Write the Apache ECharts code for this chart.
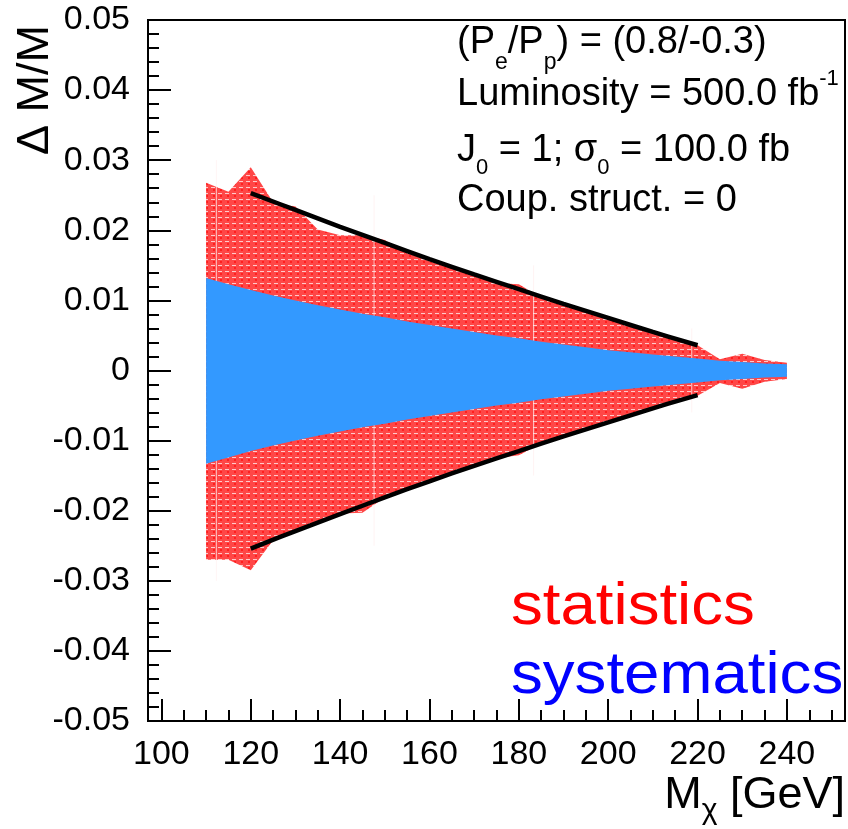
<!DOCTYPE html>
<html>
<head>
<meta charset="utf-8">
<script src="https://cdn.jsdelivr.net/npm/echarts@6/dist/echarts.min.js"></script>
<style>
  html, body { margin: 0; padding: 0; background: #fff; }
  #chart { width: 848px; height: 829px; }
</style>
</head>
<body>
<div id="chart"></div>
<script>
// Statistical uncertainty band (5 GeV steps)
const massGrid = [110, 115, 120, 125, 130, 135, 140, 145, 150, 155, 160, 165, 170, 175,
                  180, 185, 190, 195, 200, 205, 210, 215, 220, 225, 230, 235, 240];
const statUpper = [0.0268, 0.0255, 0.0290, 0.0240, 0.0234, 0.0201, 0.0193, 0.0193, 0.0186, 0.0168,
                   0.0156, 0.0146, 0.0135, 0.0125, 0.0123, 0.0104, 0.0094, 0.0084, 0.0074, 0.0064,
                   0.0054, 0.0045, 0.0036, 0.0016, 0.0024, 0.0015, 0.0011];
const statLower = [-0.0270, -0.0270, -0.0285, -0.0242, -0.0229, -0.0216, -0.0204, -0.0203, -0.0181, -0.0169,
                   -0.0156, -0.0146, -0.0135, -0.0125, -0.0121, -0.0104, -0.0094, -0.0084, -0.0074, -0.0064,
                   -0.0054, -0.0045, -0.0036, -0.0018, -0.0026, -0.0016, -0.0012];

// Systematic uncertainty band (5 GeV steps)
const sysMass = [110, 115, 120, 125, 130, 135, 140, 145, 150, 155, 160, 165, 170, 175,
                 180, 185, 190, 195, 200, 205, 210, 215, 220, 225, 230, 235, 240];
const sysUpper = [0.0132, 0.0123, 0.0115, 0.0107, 0.0100, 0.0093, 0.0087, 0.0081, 0.0076, 0.0070,
                  0.0065, 0.0060, 0.0055, 0.0050, 0.0046, 0.0041, 0.0037, 0.0033, 0.0029, 0.0026,
                  0.0023, 0.0020, 0.0017, 0.0014, 0.0012, 0.0010, 0.0009];
const sysLower = [-0.0133, -0.0124, -0.0115, -0.0107, -0.0100, -0.0093, -0.0087, -0.0081, -0.0076, -0.0070,
                  -0.0065, -0.0060, -0.0055, -0.0050, -0.0046, -0.0041, -0.0037, -0.0033, -0.0029, -0.0026,
                  -0.0023, -0.0020, -0.0017, -0.0014, -0.0012, -0.0010, -0.0009];

// Fitted envelope of the statistical band
const fitMass = [120, 130, 140, 150, 160, 170, 180, 190, 200, 210, 220];
const fitUpper = [0.0253, 0.0229, 0.0205, 0.0182, 0.0159, 0.0137, 0.0116, 0.0095, 0.0075, 0.0055, 0.0036];
const fitLower = [-0.0254, -0.0229, -0.0205, -0.0181, -0.0158, -0.0136, -0.0115, -0.0094, -0.0074, -0.0054, -0.0035];

// Axis ticks
const xMajorTicks = [100, 120, 140, 160, 180, 200, 220, 240];
const xMinorTicks = [105, 110, 115, 125, 130, 135, 145, 150, 155, 165, 170, 175, 185, 190, 195,
                     205, 210, 215, 225, 230, 235, 245, 250];

// Light seams of the hatched fill: [mass, half height]
const fillSeams = [[112.3, 0.03], [147.6, 0.025], [183.3, 0.015], [218.7, 0.006]];

const FONT = '"Liberation Sans", Arial, Helvetica, sans-serif';

function pairs(xs, ys) { return xs.map((x, i) => [x, ys[i]]); }

// Small repeating tile: red with pale dashes and darker dots
function hatchTile() {
  const c = document.createElement('canvas');
  c.width = 7; c.height = 6;
  const g = c.getContext('2d');
  g.fillStyle = '#ff4747';
  g.fillRect(0, 0, 7, 6);
  g.fillStyle = 'rgba(255,225,225,0.85)';
  g.fillRect(1, 1, 4, 1);
  g.fillStyle = '#ff1f1f';
  g.fillRect(3, 3, 2, 2);
  return c;
}

// Filled band between lower and upper edges, drawn as one polygon
function bandSeries(name, xs, lo, hi, fill, z) {
  return {
    type: 'custom', name, z, silent: true,
    data: xs.map((x, i) => [x, lo[i], hi[i]]),
    encode: { x: 0, y: [1, 2] },
    renderItem(params, api) {
      if (params.dataIndexInside !== 0) return null;
      const n = params.dataInsideLength;
      const top = [], bottom = [];
      for (let j = 0; j < n; j++) {
        const x = api.value(0, j);
        top.push(api.coord([x, api.value(2, j)]));
        bottom.push(api.coord([x, api.value(1, j)]));
      }
      return {
        type: 'polygon',
        shape: { points: top.concat(bottom.reverse()) },
        style: { fill }
      };
    }
  };
}

const chart = echarts.init(document.getElementById('chart'), null, { renderer: 'canvas' });

const axisLineStyle = { color: '#000', width: 2 };

const option = {
  animation: false,
  backgroundColor: '#fff',
  grid: {
    left: 148, right: 3, top: 20, bottom: 108,
    show: true, borderColor: '#000', borderWidth: 2, backgroundColor: 'transparent',
    containLabel: false
  },
  xAxis: [
    {
      type: 'value', min: 97, max: 253, position: 'bottom',
      axisLine: { show: true, onZero: false, lineStyle: axisLineStyle },
      axisTick: { show: true, inside: true, length: 22, customValues: xMajorTicks, lineStyle: axisLineStyle },
      axisLabel: { show: true, customValues: xMajorTicks, margin: 17, color: '#000',
                   fontFamily: FONT, fontSize: 34, formatter: v => String(v) },
      splitLine: { show: false }
    },
    {
      type: 'value', min: 97, max: 253, position: 'bottom',
      axisLine: { show: false, onZero: false },
      axisTick: { show: true, inside: true, length: 11, customValues: xMinorTicks, lineStyle: axisLineStyle },
      axisLabel: { show: false },
      splitLine: { show: false }
    }
  ],
  yAxis: {
    type: 'value', min: -0.05, max: 0.05, interval: 0.01,
    axisLine: { show: true, onZero: false, lineStyle: axisLineStyle },
    axisTick: { show: true, inside: true, length: 23, lineStyle: axisLineStyle },
    minorTick: { show: true, splitNumber: 5, length: 11, lineStyle: axisLineStyle },
    axisLabel: { margin: 18, color: '#000', fontFamily: FONT, fontSize: 34,
                 formatter: v => (Math.abs(v) < 1e-9 ? '0' : v.toFixed(2)) },
    splitLine: { show: false },
    minorSplitLine: { show: false }
  },
  series: [
    bandSeries('statistics', massGrid, statLower, statUpper,
               { image: hatchTile(), repeat: 'repeat' }, 2),
    {
      type: 'custom', name: 'seams', z: 2.5, silent: true,
      data: fillSeams, encode: { x: 0, y: 1 },
      renderItem(params, api) {
        const m = api.value(0), h = api.value(1);
        const a = api.coord([m, -h]), b = api.coord([m, h]);
        return {
          type: 'line',
          shape: { x1: a[0], y1: a[1], x2: b[0], y2: b[1] },
          style: { stroke: 'rgba(255,240,240,0.75)', lineWidth: 1 }
        };
      }
    },
    bandSeries('systematics', sysMass, sysLower, sysUpper, '#3399ff', 3),
    {
      type: 'line', name: 'fit-up', data: pairs(fitMass, fitUpper),
      symbol: 'none', smooth: 0.4, silent: true,
      lineStyle: { color: '#000', width: 4.5 }, z: 4
    },
    {
      type: 'line', name: 'fit-down', data: pairs(fitMass, fitLower),
      symbol: 'none', smooth: 0.4, silent: true,
      lineStyle: { color: '#000', width: 4.5 }, z: 4
    }
  ],
  graphic: [
    // Axis titles
    {
      type: 'text', x: 36, y: 25, rotation: Math.PI / 2, z: 10,
      style: { text: 'Δ M/M', fontFamily: FONT, fontSize: 45, fill: '#000',
               align: 'right', verticalAlign: 'middle' }
    },
    {
      type: 'text', x: 845, y: 796, z: 10,
      style: {
        text: '{m|M}{s|χ}{m| [GeV]}', align: 'right', verticalAlign: 'middle',
        rich: {
          m: { fontFamily: FONT, fontSize: 45, lineHeight: 70, fill: '#000', verticalAlign: 'middle' },
          s: { fontFamily: FONT, fontSize: 30, lineHeight: 30, fill: '#000', verticalAlign: 'middle', padding: [30, 0, 0, 0] }
        }
      }
    },
    // Run parameters
    {
      type: 'text', x: 457, y: 43, z: 10,
      style: {
        text: '{n|(P}{s|e}{n|/P}{s|p}{n|) = (0.8/-0.3)}', align: 'left', verticalAlign: 'middle',
        rich: {
          n: { fontFamily: FONT, fontSize: 38, lineHeight: 70, fill: '#000', verticalAlign: 'middle' },
          s: { fontFamily: FONT, fontSize: 23, lineHeight: 23, fill: '#000', verticalAlign: 'middle', padding: [40, 0, 0, 0] }
        }
      }
    },
    {
      type: 'text', x: 457, y: 95, z: 10,
      style: {
        text: '{n|Luminosity = 500.0 fb}{p|-1}', align: 'left', verticalAlign: 'middle',
        rich: {
          n: { fontFamily: FONT, fontSize: 38, lineHeight: 70, fill: '#000', verticalAlign: 'middle' },
          p: { fontFamily: FONT, fontSize: 22, lineHeight: 22, fill: '#000', verticalAlign: 'middle', padding: [0, 0, 32, 0] }
        }
      }
    },
    {
      type: 'text', x: 457, y: 151, z: 10,
      style: {
        text: '{n|J}{s|0}{n| = 1; σ}{s|0}{n| = 100.0 fb}', align: 'left', verticalAlign: 'middle',
        rich: {
          n: { fontFamily: FONT, fontSize: 38, lineHeight: 70, fill: '#000', verticalAlign: 'middle' },
          s: { fontFamily: FONT, fontSize: 22, lineHeight: 22, fill: '#000', verticalAlign: 'middle', padding: [34, 0, 0, 0] }
        }
      }
    },
    {
      type: 'text', x: 457, y: 201, z: 10,
      style: { text: 'Coup. struct. = 0', fontFamily: FONT, fontSize: 38, fill: '#000',
               align: 'left', verticalAlign: 'middle' }
    },
    // Band labels
    {
      type: 'text', x: 511, y: 607, scaleX: 1.06, z: 10,
      style: { text: 'statistics', fontFamily: FONT, fontSize: 60, fill: '#ff0000',
               align: 'left', verticalAlign: 'middle' }
    },
    {
      type: 'text', x: 511, y: 676, scaleX: 1.06, z: 10,
      style: { text: 'systematics', fontFamily: FONT, fontSize: 60, fill: '#0000ff',
               align: 'left', verticalAlign: 'middle' }
    }
  ]
};

chart.setOption(option);
</script>
</body>
</html>
